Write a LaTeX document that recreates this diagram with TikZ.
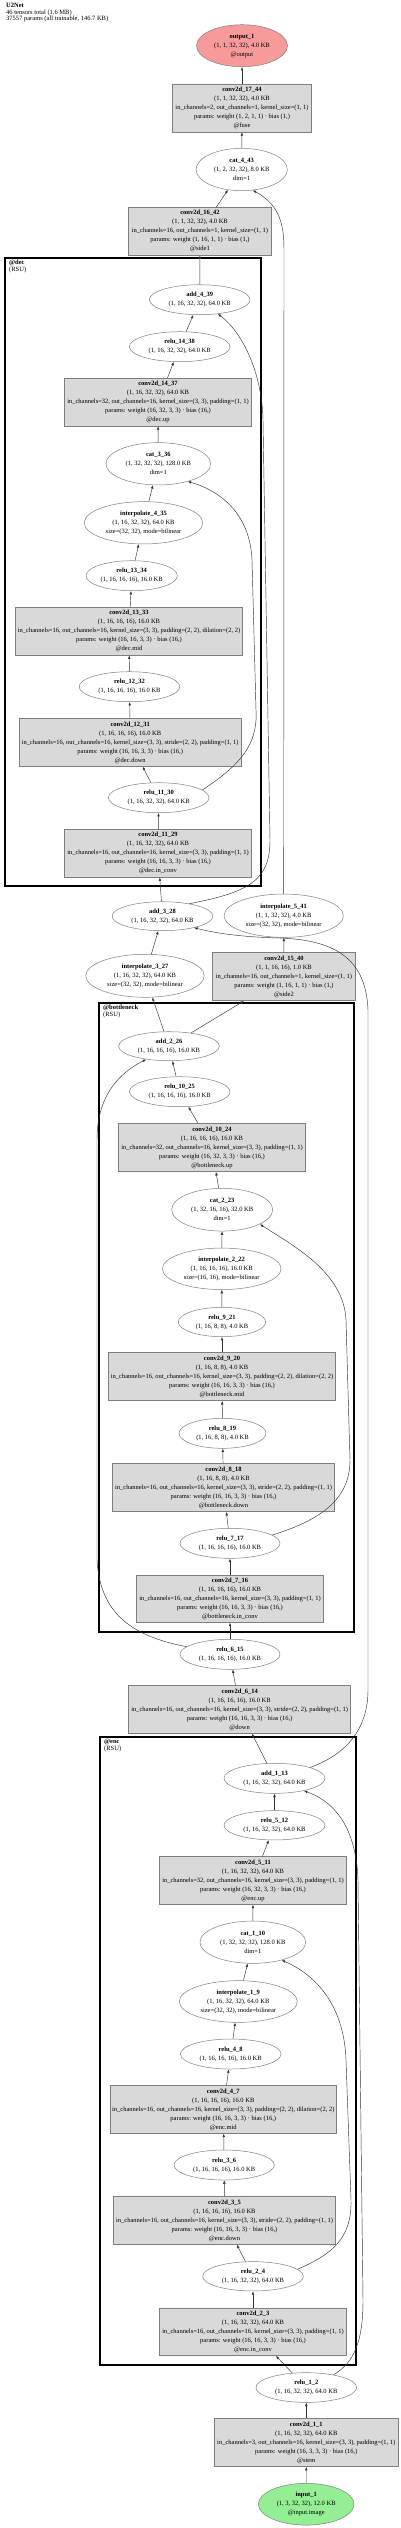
\documentclass[tikz,border=0pt]{standalone}
\usepackage{fontspec}
\setmainfont{Liberation Serif}
\usetikzlibrary{shapes.geometric}
\usetikzlibrary{arrows.meta}

\definecolor{boxgray}{HTML}{D9D9D9}
\definecolor{rimgray}{HTML}{7F7F7F}
\definecolor{outred}{HTML}{F89A9A}
\definecolor{ingreen}{HTML}{94EE94}

\tikzset{
  opnode/.style={ellipse, draw=rimgray, line width=0.5pt, align=center, inner sep=0pt, minimum width=100.7, minimum height=30},
  catnode/.style={opnode, minimum width=104.7, minimum height=42.3},
  interp/.style={opnode, minimum width=118.5, minimum height=42.3},
  convbox/.style={rectangle, draw=rimgray, line width=0.6pt, fill=boxgray, align=center, inner sep=0pt, minimum height=47.7},
  link/.style={-{Latex[length=3.5pt,width=2.6pt]}, draw=black!80, line width=0.45pt},
  rsubox/.style={draw=black, line width=2pt},
  rsulabel/.style={anchor=north west, align=left, inner sep=0pt, font=\fontsize{6.5}{6.7}\selectfont}
}

\begin{document}
\begin{tikzpicture}[x=1pt, y=-1pt, every node/.style={font=\fontsize{6.5}{9}\selectfont}]
\useasboundingbox (0,0) rectangle (400,2528);

\node[anchor=north west, align=left, inner sep=0pt, font=\fontsize{6.5}{6.6}\selectfont] (title) at (6,3)
  {\textbf{U2Net}\\46 tensors total (1.6 MB)\\37557 params (all trainable, 146.7 KB)};

\draw[rsubox] (5,258.3) rectangle (261,885.7);
\node[rsulabel] (declbl) at (9,260) {\textbf{@dec}\\(RSU)};
\draw[rsubox] (99.3,1003.3) rectangle (354.3,1631.7);
\node[rsulabel] (bottlbl) at (103,1005) {\textbf{@bottleneck}\\(RSU)};
\draw[rsubox] (100,1737.3) rectangle (356,2365);
\node[rsulabel] (enclbl) at (104,1739) {\textbf{@enc}\\(RSU)};

\node[opnode, fill=outred, minimum width=91, minimum height=42] (output_1) at (242,45.7)
  {\textbf{output\_1}\\(1, 1, 32, 32), 4.0 KB\\@output};
\node[convbox, minimum width=139.4] (conv2d_17_44) at (242,108)
  {\textbf{conv2d\_17\_44}\\(1, 1, 32, 32), 4.0 KB\\in\_channels=2, out\_channels=1, kernel\_size=(1, 1)\\params: weight (1, 2, 1, 1) · bias (1,)\\@fuse};
\node[catnode, minimum width=91.3] (cat_4_43) at (241.7,169.5)
  {\textbf{cat\_4\_43}\\(1, 2, 32, 32), 8.0 KB\\dim=1};
\node[convbox, minimum width=143] (conv2d_16_42) at (200,231.3)
  {\textbf{conv2d\_16\_42}\\(1, 1, 32, 32), 4.0 KB\\in\_channels=16, out\_channels=1, kernel\_size=(1, 1)\\params: weight (1, 16, 1, 1) · bias (1,)\\@side1};

\node[opnode] (add_4_39) at (199.7,299.7) {\textbf{add\_4\_39}\\(1, 16, 32, 32), 64.0 KB};
\node[opnode] (relu_14_38) at (179.7,346.7) {\textbf{relu\_14\_38}\\(1, 16, 32, 32), 64.0 KB};
\node[convbox, minimum width=187.3] (conv2d_14_37) at (158,402)
  {\textbf{conv2d\_14\_37}\\(1, 16, 32, 32), 64.0 KB\\in\_channels=32, out\_channels=16, kernel\_size=(3, 3), padding=(1, 1)\\params: weight (16, 32, 3, 3) · bias (16,)\\@dec.up};
\node[catnode] (cat_3_36) at (158.3,463.8) {\textbf{cat\_3\_36}\\(1, 32, 32, 32), 128.0 KB\\dim=1};
\node[interp] (interpolate_4_35) at (143.5,522.8)
  {\textbf{interpolate\_4\_35}\\(1, 16, 32, 32), 64.0 KB\\size=(32, 32), mode=bilinear};
\node[opnode, minimum width=91.3] (relu_13_34) at (131.7,575.7) {\textbf{relu\_13\_34}\\(1, 16, 16, 16), 16.0 KB};
\node[convbox, minimum width=227.3] (conv2d_13_33) at (129,631.2)
  {\textbf{conv2d\_13\_33}\\(1, 16, 16, 16), 16.0 KB\\in\_channels=16, out\_channels=16, kernel\_size=(3, 3), padding=(2, 2), dilation=(2, 2)\\params: weight (16, 16, 3, 3) · bias (16,)\\@dec.mid};
\node[opnode] (relu_12_32) at (129.5,686.7) {\textbf{relu\_12\_32}\\(1, 16, 16, 16), 16.0 KB};
\node[convbox, minimum width=221.7] (conv2d_12_31) at (130.2,742.5)
  {\textbf{conv2d\_12\_31}\\(1, 16, 16, 16), 16.0 KB\\in\_channels=16, out\_channels=16, kernel\_size=(3, 3), stride=(2, 2), padding=(1, 1)\\params: weight (16, 16, 3, 3) · bias (16,)\\@dec.down};
\node[opnode] (relu_11_30) at (158.7,797.7) {\textbf{relu\_11\_30}\\(1, 16, 32, 32), 64.0 KB};
\node[convbox, minimum width=187.3] (conv2d_11_29) at (158,853.3)
  {\textbf{conv2d\_11\_29}\\(1, 16, 32, 32), 64.0 KB\\in\_channels=16, out\_channels=16, kernel\_size=(3, 3), padding=(1, 1)\\params: weight (16, 16, 3, 3) · bias (16,)\\@dec.in\_conv};

\node[opnode, minimum height=29] (add_3_28) at (162.5,916.2) {\textbf{add\_3\_28}\\(1, 16, 32, 32), 64.0 KB};
\node[interp, minimum width=119.3, minimum height=43.3] (interpolate_5_41) at (283.7,915.7)
  {\textbf{interpolate\_5\_41}\\(1, 1, 32, 32), 4.0 KB\\size=(32, 32), mode=bilinear};
\node[interp, minimum height=43] (interpolate_3_27) at (145,975.8)
  {\textbf{interpolate\_3\_27}\\(1, 16, 32, 32), 64.0 KB\\size=(32, 32), mode=bilinear};
\node[convbox, minimum width=142.7, minimum height=48] (conv2d_15_40) at (284,976.7)
  {\textbf{conv2d\_15\_40}\\(1, 1, 16, 16), 1.0 KB\\in\_channels=16, out\_channels=1, kernel\_size=(1, 1)\\params: weight (1, 16, 1, 1) · bias (1,)\\@side2};

\node[opnode, minimum height=29] (add_2_26) at (169,1046.2) {\textbf{add\_2\_26}\\(1, 16, 16, 16), 16.0 KB};
\node[opnode] (relu_10_25) at (179.7,1091.7) {\textbf{relu\_10\_25}\\(1, 16, 16, 16), 16.0 KB};
\node[convbox, minimum width=187.3, minimum height=48.3] (conv2d_10_24) at (212,1147.5)
  {\textbf{conv2d\_10\_24}\\(1, 16, 16, 16), 16.0 KB\\in\_channels=32, out\_channels=16, kernel\_size=(3, 3), padding=(1, 1)\\params: weight (16, 32, 3, 3) · bias (16,)\\@bottleneck.up};
\node[catnode, minimum width=101, minimum height=42.7] (cat_2_23) at (222.2,1209.7) {\textbf{cat\_2\_23}\\(1, 32, 16, 16), 32.0 KB\\dim=1};
\node[interp, minimum width=118.7, minimum height=41.5] (interpolate_2_22) at (221.7,1268.8)
  {\textbf{interpolate\_2\_22}\\(1, 16, 16, 16), 16.0 KB\\size=(16, 16), mode=bilinear};
\node[opnode, minimum width=87.3, minimum height=29.3] (relu_9_21) at (222,1322) {\textbf{relu\_9\_21}\\(1, 16, 8, 8), 4.0 KB};
\node[convbox, minimum width=227.3, minimum height=48] (conv2d_9_20) at (222,1376.7)
  {\textbf{conv2d\_9\_20}\\(1, 16, 8, 8), 4.0 KB\\in\_channels=16, out\_channels=16, kernel\_size=(3, 3), padding=(2, 2), dilation=(2, 2)\\params: weight (16, 16, 3, 3) · bias (16,)\\@bottleneck.mid};
\node[opnode, minimum width=87] (relu_8_19) at (222.5,1433.3) {\textbf{relu\_8\_19}\\(1, 16, 8, 8), 4.0 KB};
\node[convbox, minimum width=222.3, minimum height=48.3] (conv2d_8_18) at (223.5,1487.5)
  {\textbf{conv2d\_8\_18}\\(1, 16, 8, 8), 4.0 KB\\in\_channels=16, out\_channels=16, kernel\_size=(3, 3), stride=(2, 2), padding=(1, 1)\\params: weight (16, 16, 3, 3) · bias (16,)\\@bottleneck.down};
\node[opnode, minimum width=100] (relu_7_17) at (230,1543.3) {\textbf{relu\_7\_17}\\(1, 16, 16, 16), 16.0 KB};
\node[convbox, minimum width=186.7, minimum height=47.3] (conv2d_7_16) at (230,1598.7)
  {\textbf{conv2d\_7\_16}\\(1, 16, 16, 16), 16.0 KB\\in\_channels=16, out\_channels=16, kernel\_size=(3, 3), padding=(1, 1)\\params: weight (16, 16, 3, 3) · bias (16,)\\@bottleneck.in\_conv};

\node[opnode, minimum width=100] (relu_6_15) at (230,1654.3) {\textbf{relu\_6\_15}\\(1, 16, 16, 16), 16.0 KB};
\node[convbox, minimum width=222] (conv2d_6_14) at (239.7,1709.5)
  {\textbf{conv2d\_6\_14}\\(1, 16, 16, 16), 16.0 KB\\in\_channels=16, out\_channels=16, kernel\_size=(3, 3), stride=(2, 2), padding=(1, 1)\\params: weight (16, 16, 3, 3) · bias (16,)\\@down};

\node[opnode, minimum width=101] (add_1_13) at (274.5,1778.3) {\textbf{add\_1\_13}\\(1, 16, 32, 32), 64.0 KB};
\node[opnode, minimum width=101, minimum height=29.3] (relu_5_12) at (274.5,1825.3) {\textbf{relu\_5\_12}\\(1, 16, 32, 32), 64.0 KB};
\node[convbox, minimum width=187.3] (conv2d_5_11) at (253,1880.5)
  {\textbf{conv2d\_5\_11}\\(1, 16, 32, 32), 64.0 KB\\in\_channels=32, out\_channels=16, kernel\_size=(3, 3), padding=(1, 1)\\params: weight (16, 32, 3, 3) · bias (16,)\\@enc.up};
\node[catnode, minimum width=105.7] (cat_1_10) at (252.8,1942.2) {\textbf{cat\_1\_10}\\(1, 32, 32, 32), 128.0 KB\\dim=1};
\node[interp, minimum width=118, minimum height=41.7] (interpolate_1_9) at (238.3,2001.5)
  {\textbf{interpolate\_1\_9}\\(1, 16, 32, 32), 64.0 KB\\size=(32, 32), mode=bilinear};
\node[opnode] (relu_4_8) at (230.7,2054) {\textbf{relu\_4\_8}\\(1, 16, 16, 16), 16.0 KB};
\node[convbox, minimum width=226.7] (conv2d_4_7) at (223.3,2109.5)
  {\textbf{conv2d\_4\_7}\\(1, 16, 16, 16), 16.0 KB\\in\_channels=16, out\_channels=16, kernel\_size=(3, 3), padding=(2, 2), dilation=(2, 2)\\params: weight (16, 16, 3, 3) · bias (16,)\\@enc.mid};
\node[opnode, minimum width=100.3] (relu_3_6) at (224.2,2165) {\textbf{relu\_3\_6}\\(1, 16, 16, 16), 16.0 KB};
\node[convbox, minimum width=222.3] (conv2d_3_5) at (224.5,2220.5)
  {\textbf{conv2d\_3\_5}\\(1, 16, 16, 16), 16.0 KB\\in\_channels=16, out\_channels=16, kernel\_size=(3, 3), stride=(2, 2), padding=(1, 1)\\params: weight (16, 16, 3, 3) · bias (16,)\\@enc.down};
\node[opnode, minimum height=29.3] (relu_2_4) at (253,2276.3) {\textbf{relu\_2\_4}\\(1, 16, 32, 32), 64.0 KB};
\node[convbox, minimum width=187.3, minimum height=47.3] (conv2d_2_3) at (253,2332)
  {\textbf{conv2d\_2\_3}\\(1, 16, 32, 32), 64.0 KB\\in\_channels=16, out\_channels=16, kernel\_size=(3, 3), padding=(1, 1)\\params: weight (16, 16, 3, 3) · bias (16,)\\@enc.in\_conv};

\node[opnode, minimum height=29.7] (relu_1_2) at (306.3,2387.5) {\textbf{relu\_1\_2}\\(1, 16, 32, 32), 64.0 KB};
\node[convbox, minimum width=184, minimum height=48.3] (conv2d_1_1) at (306.3,2442.5)
  {\textbf{conv2d\_1\_1}\\(1, 16, 32, 32), 64.0 KB\\in\_channels=3, out\_channels=16, kernel\_size=(3, 3), padding=(1, 1)\\params: weight (16, 3, 3, 3) · bias (16,)\\@stem};
\node[opnode, fill=ingreen, minimum width=95.7, minimum height=41.7] (input_1) at (306.2,2504.2)
  {\textbf{input\_1}\\(1, 3, 32, 32), 12.0 KB\\@input.image};

\draw[link] (input_1) -- (conv2d_1_1);
\draw[link] (conv2d_1_1) -- (relu_1_2);
\draw[link] (relu_1_2) -- (conv2d_2_3);
\draw[link] (conv2d_2_3) -- (relu_2_4);
\draw[link] (relu_2_4) -- (conv2d_3_5);
\draw[link] (conv2d_3_5) -- (relu_3_6);
\draw[link] (relu_3_6) -- (conv2d_4_7);
\draw[link] (conv2d_4_7) -- (relu_4_8);
\draw[link] (relu_4_8) -- (interpolate_1_9);
\draw[link] (interpolate_1_9) -- (cat_1_10);
\draw[link] (relu_2_4.9) .. controls (330,2255) and (352,2240) .. (351,2200) -- (346,2060)
  .. controls (344,2000) and (310,1972) .. (cat_1_10.-32);
\draw[link] (cat_1_10) -- (conv2d_5_11);
\draw[link] (conv2d_5_11) -- (relu_5_12);
\draw[link] (relu_5_12) -- (add_1_13);
\draw[link] (relu_1_2.25) .. controls (355,2362) and (363,2340) .. (363,2300) -- (358,1880)
  .. controls (356,1822) and (330,1800) .. (add_1_13.-23);
\draw[link] (add_1_13) -- (conv2d_6_14);
\draw[link] (conv2d_6_14) -- (relu_6_15);
\draw[link] (relu_6_15) -- (conv2d_7_16);
\draw[link] (conv2d_7_16) -- (relu_7_17);
\draw[link] (relu_7_17) -- (conv2d_8_18);
\draw[link] (conv2d_8_18) -- (relu_8_19);
\draw[link] (relu_8_19) -- (conv2d_9_20);
\draw[link] (conv2d_9_20) -- (relu_9_21);
\draw[link] (relu_9_21) -- (interpolate_2_22);
\draw[link] (interpolate_2_22) -- (cat_2_23);
\draw[link] (relu_7_17.11) .. controls (320,1520) and (350,1500) .. (350,1460) -- (346,1320)
  .. controls (344,1272) and (292,1245) .. (cat_2_23.-21);
\draw[link] (cat_2_23) -- (conv2d_10_24);
\draw[link] (conv2d_10_24) -- (relu_10_25);
\draw[link] (relu_10_25) -- (add_2_26);
\draw[link] (relu_6_15.170) .. controls (130,1636) and (100,1612) .. (97,1560) -- (97,1140)
  .. controls (97,1100) and (115,1075) .. (add_2_26.-150);
\draw[link] (add_2_26) -- (interpolate_3_27);
\draw[link] (add_2_26) -- (conv2d_15_40);
\draw[link] (conv2d_15_40) -- (interpolate_5_41);
\draw[link] (interpolate_3_27) -- (add_3_28);
\draw[link] (add_1_13.17) .. controls (345,1755) and (368,1730) .. (368,1690) -- (368,1010)
  .. controls (366,955) and (330,940) .. (280,938) .. controls (240,937) and (215,933) .. (add_3_28.-20);
\draw[link] (add_3_28) -- (conv2d_11_29);
\draw[link] (conv2d_11_29) -- (relu_11_30);
\draw[link] (relu_11_30) -- (conv2d_12_31);
\draw[link] (conv2d_12_31) -- (relu_12_32);
\draw[link] (relu_12_32) -- (conv2d_13_33);
\draw[link] (conv2d_13_33) -- (relu_13_34);
\draw[link] (relu_13_34) -- (interpolate_4_35);
\draw[link] (interpolate_4_35) -- (cat_3_36);
\draw[link] (relu_11_30.10) .. controls (240,765) and (258,745) .. (256,710) -- (252,560)
  .. controls (250,512) and (218,490) .. (cat_3_36.-31);
\draw[link] (cat_3_36) -- (conv2d_14_37);
\draw[link] (conv2d_14_37) -- (relu_14_38);
\draw[link] (relu_14_38) -- (add_4_39);
\draw[link] (add_3_28.25) .. controls (250,892) and (270,880) .. (270,840) -- (263,420)
  .. controls (262,372) and (242,332) .. (add_4_39.-38);
\draw[link] (add_4_39) -- (conv2d_16_42);
\draw[link] (conv2d_16_42) -- (cat_4_43);
\draw[link] (interpolate_5_41.north) -- (284,250) .. controls (284,225) and (280,205) .. (cat_4_43.-62);
\draw[link] (cat_4_43) -- (conv2d_17_44);
\draw[link] (conv2d_17_44) -- (output_1);
\end{tikzpicture}
\end{document}
